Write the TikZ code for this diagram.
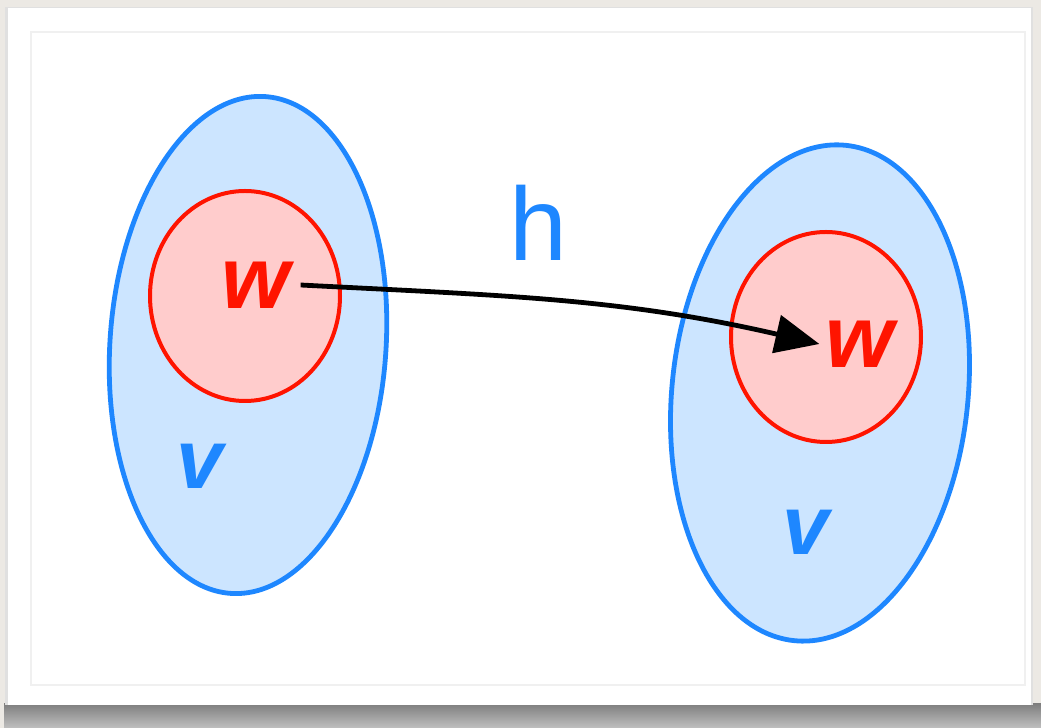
\documentclass[tikz,border=0pt]{standalone}
\usepackage{fontspec}
\setmainfont{Liberation Sans}
\usetikzlibrary{shapes.geometric, arrows.meta, positioning}
\definecolor{setblue}{RGB}{30,135,255}
\definecolor{setfill}{RGB}{204,229,255}
\definecolor{subred}{RGB}{255,20,0}
\definecolor{subfill}{RGB}{255,204,204}
\definecolor{desk}{RGB}{236,233,228}

\begin{document}
\begin{tikzpicture}[
  x=0.5pt, y=0.5pt,
  bigset/.style={ellipse, draw=setblue, line width=2.4pt, fill=setfill, inner sep=0pt},
  subset/.style={ellipse, draw=subred, line width=2pt, fill=subfill, inner sep=0pt,
                 minimum width=95pt, minimum height=105pt},
  wlabel/.style={text=subred, font=\fontsize{44}{44}\selectfont\bfseries\itshape, inner sep=2pt},
  vlabel/.style={text=setblue, font=\fontsize{42}{42}\selectfont\bfseries\itshape},
  maparrow/.style={-{Triangle[length=22pt, width=19pt]}, line width=2.4pt, black},
]
  % card and backdrop
  \fill[desk] (0,0) rectangle (1041,728);
  \useasboundingbox (0,0) rectangle (1041,728);
  \shade[top color=black!50, bottom color=black!25] (4,0) rectangle (1041,24);
  \fill[black!12] (5,23) rectangle (1033,721);
  \fill[white] (8,23) rectangle (1031,720);
  \draw[black!6, line width=1pt] (31,43) rectangle (1025,696);

  % the two sets
  \node[bigset, minimum width=138pt, minimum height=249pt, rotate=-4] (setV) at (248,383) {};
  \node[bigset, minimum width=148pt, minimum height=249pt, rotate=-6] (setW) at (820,335) {};

  % the two subsets
  \node[subset] (subL) at (245,432) {};
  \node[subset] (subR) at (826,391) {};

  % labels
  \node[wlabel] (wl) at (256,443) {w};
  \node[wlabel] (wr) at (860,384) {w};
  \node[vlabel] (vl) at (200,262) {v};
  \node[vlabel] (vr) at (806,196) {v};
  \node[text=setblue, font=\fontsize{52}{52}\selectfont] (map) at (538,505) {h};

  % the map
  \draw[maparrow] ([xshift=3pt]wl.east) to[out=-3, in=167] ([xshift=-1pt]wr.west);

\end{tikzpicture}
\end{document}
